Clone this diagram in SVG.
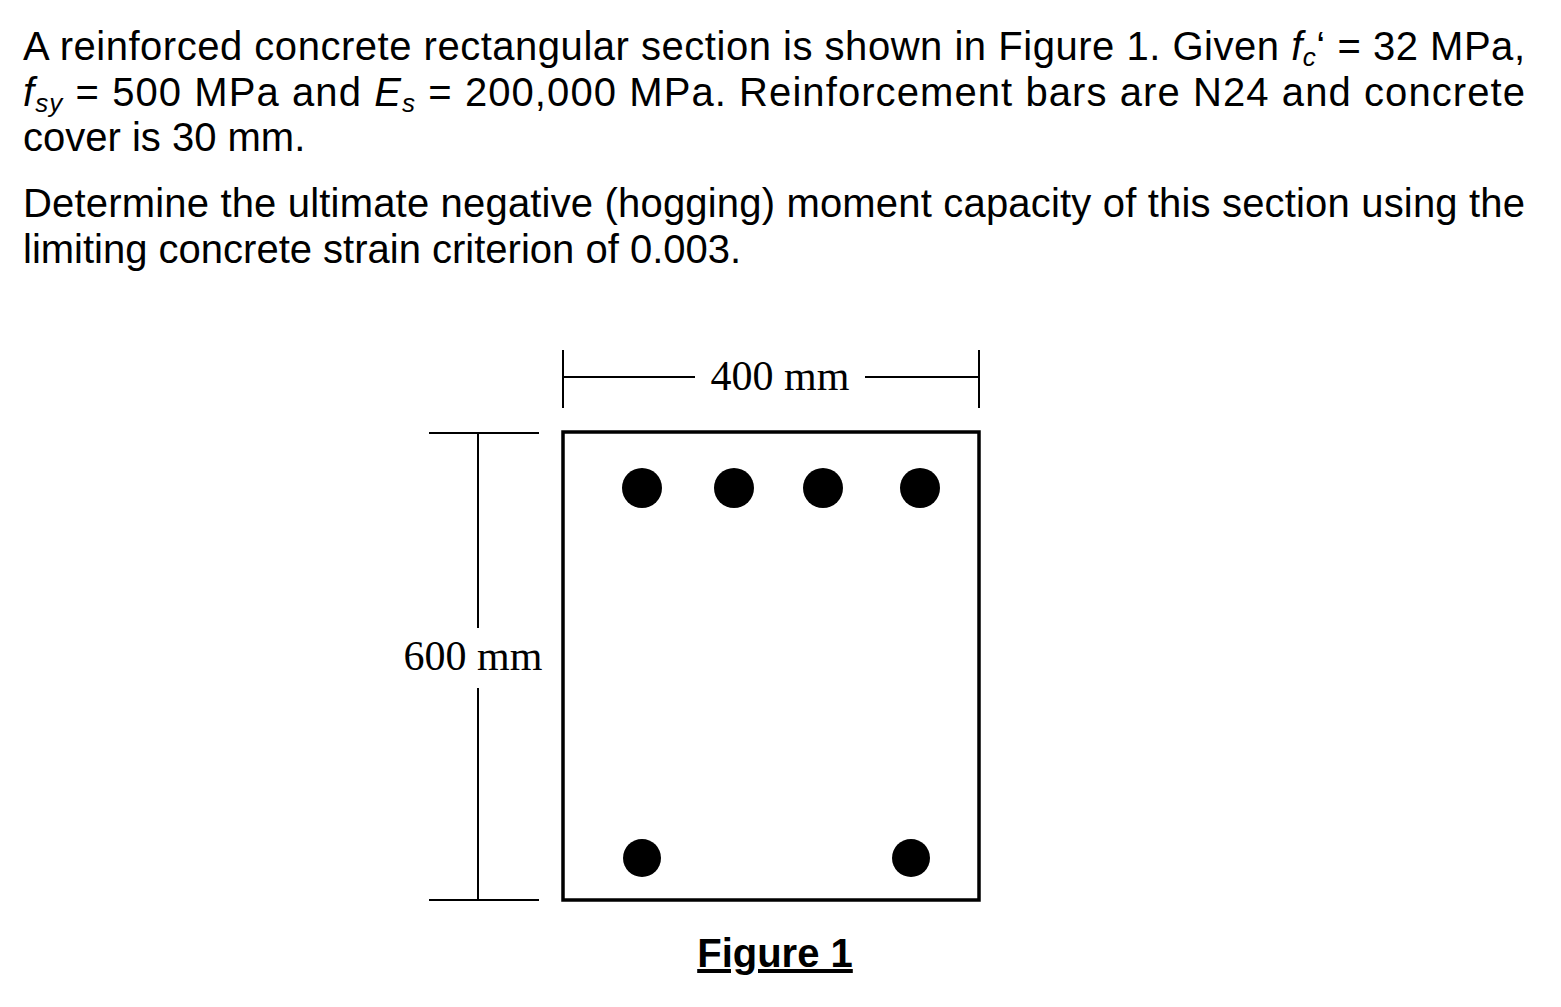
<svg xmlns="http://www.w3.org/2000/svg" width="1561" height="1007" viewBox="0 0 1561 1007">
<style>
.t{font-family:"Liberation Sans",Arial,sans-serif;font-size:40px;fill:#000}
.d{font-family:"Liberation Serif","Times New Roman",serif;font-size:42px;fill:#000}
.l{stroke:#000;stroke-width:2;fill:none}
</style>
<rect width="1561" height="1007" fill="#fff"/>
<g id="text">
<text class="t" x="23" y="60" textLength="1502" lengthAdjust="spacing">A reinforced concrete rectangular section is shown in Figure 1. Given <tspan font-style="italic">f</tspan><tspan font-style="italic" font-size="26" dy="6">c</tspan><tspan dy="-6">‘ = 32 MPa,</tspan></text>
<text class="t" x="23" y="106" textLength="1502" lengthAdjust="spacing"><tspan font-style="italic">f</tspan><tspan font-style="italic" font-size="26" dy="6">sy</tspan><tspan dy="-6"> = 500 MPa and </tspan><tspan font-style="italic">E</tspan><tspan font-style="italic" font-size="26" dy="6">s</tspan><tspan dy="-6"> = 200,000 MPa. Reinforcement bars are N24 and concrete</tspan></text>
<text class="t" x="23" y="151">cover is 30 mm.</text>
<text class="t" x="23" y="217" textLength="1502" lengthAdjust="spacing">Determine the ultimate negative (hogging) moment capacity of this section using the</text>
<text class="t" x="23" y="263">limiting concrete strain criterion of 0.003.</text>
</g>
<g id="section">
<rect x="563" y="432" width="416" height="468" fill="none" stroke="#000" stroke-width="3.5"/>
<circle cx="642" cy="488" r="20"/><circle cx="734" cy="488" r="20"/><circle cx="823" cy="488" r="20"/><circle cx="920" cy="488" r="20"/>
<circle cx="642" cy="858" r="19"/><circle cx="911" cy="858" r="19"/>
</g>
<g id="connectors">
<path class="l" d="M563 350V408M979 350V408M563 377H695M865 377H979"/>
<path class="l" d="M429 433H539M429 900H539M478 433V628M478 688V900"/>
</g>
<g id="labels">
<text class="d" x="780" y="390" text-anchor="middle">400 mm</text>
<text class="d" x="473" y="670" text-anchor="middle">600 mm</text>
<text class="t" x="775" y="967" text-anchor="middle" font-weight="bold" text-decoration="underline">Figure 1</text>
</g>
</svg>
